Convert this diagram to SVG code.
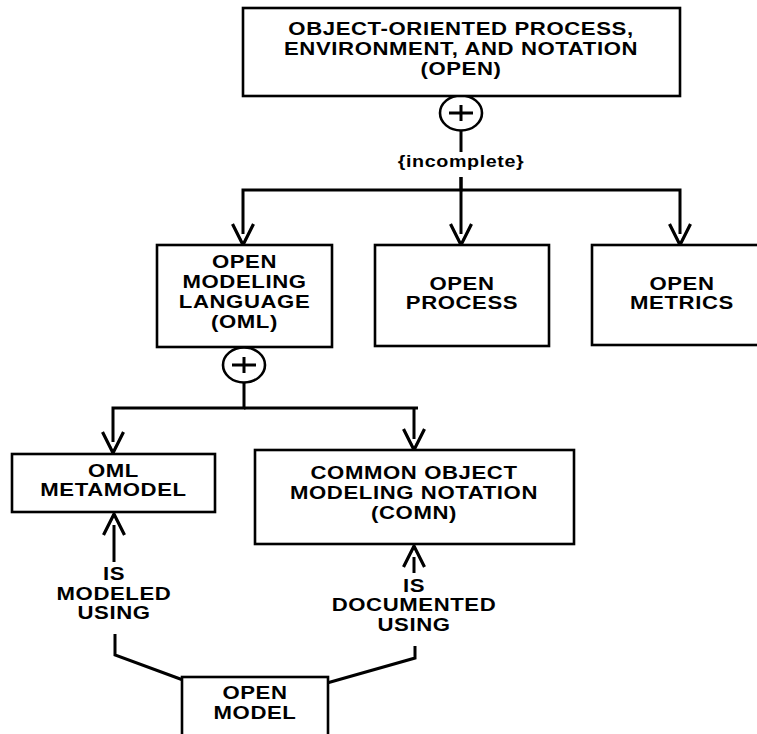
<svg xmlns="http://www.w3.org/2000/svg" width="757" height="734" viewBox="0 0 757 734">
  <style>
    .box { fill: #fff; stroke: #000; stroke-width: 2.6; }
    .wire { fill: none; stroke: #000; stroke-width: 3; stroke-linejoin: miter; }
    .xor { fill: #fff; stroke: #000; stroke-width: 2.6; }
    .lbl { font-family: "Liberation Sans", Arial, Helvetica, sans-serif; font-size: 18px; font-weight: bold; letter-spacing: 0.5px; text-anchor: middle; fill: #000; }
    .small { font-size: 16px; }
  </style>
  <defs>
    <!-- open V arrowhead with a small hollow notch at the tip -->
    <marker id="vhead" markerUnits="userSpaceOnUse" markerWidth="28" markerHeight="28" refX="22" refY="14" orient="auto" overflow="visible">
      <polygon points="11,10.5 20,14 11,17.5" fill="#fff"/>
      <path d="M1 3.5 L22 14 L1 24.5" fill="none" stroke="#000" stroke-width="3.2" stroke-linejoin="miter"/>
    </marker>
  </defs>

  <!-- connectors -->
  <g id="connectors">
    <!-- OPEN decomposition -->
    <path class="wire" d="M461 131 V152"/>
    <path class="wire" d="M461 177 V190 H243 V245" marker-end="url(#vhead)"/>
    <path class="wire" d="M461 177 V245" marker-end="url(#vhead)"/>
    <path class="wire" d="M461 190 H680 V245" marker-end="url(#vhead)"/>
    <ellipse class="xor" cx="461" cy="113" rx="21" ry="17.5"/>
    <path class="wire" d="M449 113 H473 M461 105 V121" stroke-width="2.6"/>

    <!-- OML decomposition -->
    <path class="wire" d="M244 382 V408 H113 V453" marker-end="url(#vhead)"/>
    <path class="wire" d="M244 408 H418 M414 408 V450" marker-end="url(#vhead)"/>
    <ellipse class="xor" cx="244" cy="365" rx="21" ry="17.5"/>
    <path class="wire" d="M232 365 H256 M244 357 V373" stroke-width="2.6"/>

    <!-- OPEN MODEL relationships -->
    <path class="wire" d="M114 562 V514" marker-end="url(#vhead)"/>
    <path class="wire" d="M115 634 V655 L183 680"/>
    <path class="wire" d="M414 573 V546" marker-end="url(#vhead)"/>
    <path class="wire" d="M415 646 V658 L327 683"/>

    <text class="lbl small" transform="translate(461 0) scale(1.23 1)" x="0" y="167">{incomplete}</text>
    <g transform="translate(114 0) scale(1.23 1)">
      <text class="lbl" x="0" y="580">IS</text>
      <text class="lbl" x="0" y="600">MODELED</text>
      <text class="lbl" x="0" y="619">USING</text>
    </g>
    <g transform="translate(414 0) scale(1.23 1)">
      <text class="lbl" x="0" y="592">IS</text>
      <text class="lbl" x="0" y="611">DOCUMENTED</text>
      <text class="lbl" x="0" y="631">USING</text>
    </g>
  </g>

  <g id="open">
    <rect class="box" x="243" y="8" width="437" height="88"/>
    <g transform="translate(461 0) scale(1.23 1)">
      <text class="lbl" x="0" y="35">OBJECT-ORIENTED PROCESS,</text>
      <text class="lbl" x="0" y="55">ENVIRONMENT, AND NOTATION</text>
      <text class="lbl" x="0" y="75">(OPEN)</text>
    </g>
  </g>

  <g id="oml">
    <rect class="box" x="157" y="245" width="175" height="102"/>
    <g transform="translate(244.5 0) scale(1.23 1)">
      <text class="lbl" x="0" y="268">OPEN</text>
      <text class="lbl" x="0" y="288">MODELING</text>
      <text class="lbl" x="0" y="308">LANGUAGE</text>
      <text class="lbl" x="0" y="328">(OML)</text>
    </g>
  </g>

  <g id="open-process">
    <rect class="box" x="375" y="245" width="174" height="101"/>
    <g transform="translate(462 0) scale(1.23 1)">
      <text class="lbl" x="0" y="290">OPEN</text>
      <text class="lbl" x="0" y="309">PROCESS</text>
    </g>
  </g>

  <g id="open-metrics">
    <rect class="box" x="592" y="245" width="180" height="100"/>
    <g transform="translate(682 0) scale(1.23 1)">
      <text class="lbl" x="0" y="290">OPEN</text>
      <text class="lbl" x="0" y="309">METRICS</text>
    </g>
  </g>

  <g id="oml-metamodel">
    <rect class="box" x="12" y="454" width="203" height="58"/>
    <g transform="translate(113.5 0) scale(1.23 1)">
      <text class="lbl" x="0" y="477">OML</text>
      <text class="lbl" x="0" y="496">METAMODEL</text>
    </g>
  </g>

  <g id="comn">
    <rect class="box" x="255" y="450" width="319" height="94"/>
    <g transform="translate(414 0) scale(1.23 1)">
      <text class="lbl" x="0" y="479">COMMON OBJECT</text>
      <text class="lbl" x="0" y="499">MODELING NOTATION</text>
      <text class="lbl" x="0" y="519">(COMN)</text>
    </g>
  </g>

  <g id="open-model">
    <rect class="box" x="182" y="677" width="146" height="70"/>
    <g transform="translate(255 0) scale(1.23 1)">
      <text class="lbl" x="0" y="699">OPEN</text>
      <text class="lbl" x="0" y="719">MODEL</text>
    </g>
  </g>
</svg>
